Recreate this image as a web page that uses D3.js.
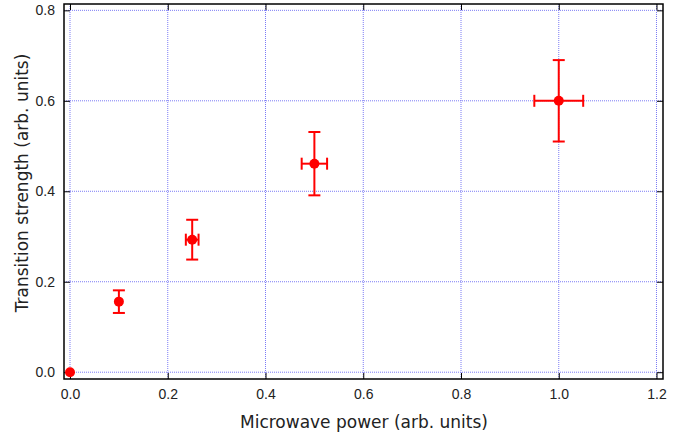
<!DOCTYPE html>
<html>
<head>
<meta charset="utf-8">
<script src="https://cdn.jsdelivr.net/npm/d3@7"></script>
<style>
  body { margin: 0; background: #fff; }
  svg text { font-family: "DejaVu Sans", Verdana, sans-serif; fill: #222; }
  svg .tick text { font-family: "Liberation Sans", Arial, sans-serif; }
</style>
</head>
<body>
<div class="canvas"></div>
<script>
const power = [0, 0.1, 0.25, 0.5, 1.0];
const powerErr = [0, 0, 0.013, 0.026, 0.05];
const strength = [0, 0.156, 0.293, 0.461, 0.6];
const strengthErr = [0, 0.025, 0.044, 0.07, 0.09];
const xTicks = [0, 0.2, 0.4, 0.6, 0.8, 1.0, 1.2];
const yTicks = [0, 0.2, 0.4, 0.6, 0.8];

const W = 685, H = 435;
const margin = { top: 4, right: 22, bottom: 56, left: 64 };
const width = W - margin.left - margin.right;
const height = H - margin.top - margin.bottom;

const x = d3.scaleLinear().domain([-0.0123, 1.2133]).range([0, width]);
const y = d3.scaleLinear().domain([-0.015, 0.814]).range([height, 0]);

const svg = d3.select(".canvas").append("svg").attr("width", W).attr("height", H);
const chart = svg.append("g").attr("transform", `translate(${margin.left}, ${margin.top})`);

// grid
chart.append("g").selectAll("line").data(xTicks).enter().append("line")
  .attr("x1", (d) => x(d)).attr("x2", (d) => x(d))
  .attr("y1", 0).attr("y2", height)
  .attr("stroke", "#7b7bf5").attr("stroke-width", 1).attr("stroke-dasharray", "1,1");
chart.append("g").selectAll("line").data(yTicks).enter().append("line")
  .attr("y1", (d) => y(d)).attr("y2", (d) => y(d))
  .attr("x1", 0).attr("x2", width)
  .attr("stroke", "#7b7bf5").attr("stroke-width", 1).attr("stroke-dasharray", "1,1");

// axes with inward ticks
const fmt = d3.format(".1f");
const xAxis = chart.append("g").attr("transform", `translate(0, ${height})`)
  .call(d3.axisBottom(x).tickValues(xTicks).tickFormat(fmt).tickSizeInner(-6).tickSizeOuter(0).tickPadding(10));
const yAxis = chart.append("g")
  .call(d3.axisLeft(y).tickValues(yTicks).tickFormat(fmt).tickSizeInner(-6).tickSizeOuter(0).tickPadding(9));
const xTop = chart.append("g")
  .call(d3.axisTop(x).tickValues(xTicks).tickFormat("").tickSizeInner(-6).tickSizeOuter(0));
const yRight = chart.append("g").attr("transform", `translate(${width}, 0)`)
  .call(d3.axisRight(y).tickValues(yTicks).tickFormat("").tickSizeInner(-6).tickSizeOuter(0));
[xAxis, yAxis, xTop, yRight].forEach((a) => {
  a.select(".domain").remove();
  a.selectAll("line").attr("stroke", "#000");
  a.selectAll("text").style("font-size", "14px").attr("fill", "#222");
});

chart.append("rect").attr("width", width).attr("height", height)
  .attr("fill", "none").attr("stroke", "#000").attr("stroke-width", 1.5);

// error bars
const pts = power.map((p, i) => ({ x: p, xe: powerErr[i], y: strength[i], ye: strengthErr[i] }));
const eb = chart.append("g").attr("stroke", "#ff0000").attr("stroke-width", 2);
pts.filter((d) => d.ye > 0).forEach((d) => {
  eb.append("line").attr("x1", x(d.x)).attr("x2", x(d.x)).attr("y1", y(d.y - d.ye)).attr("y2", y(d.y + d.ye));
  [d.y - d.ye, d.y + d.ye].forEach((v) => {
    eb.append("line").attr("x1", x(d.x) - 6).attr("x2", x(d.x) + 6).attr("y1", y(v)).attr("y2", y(v));
  });
});
pts.filter((d) => d.xe > 0).forEach((d) => {
  eb.append("line").attr("x1", x(d.x - d.xe)).attr("x2", x(d.x + d.xe)).attr("y1", y(d.y)).attr("y2", y(d.y));
  [d.x - d.xe, d.x + d.xe].forEach((v) => {
    eb.append("line").attr("x1", x(v)).attr("x2", x(v)).attr("y1", y(d.y) - 6).attr("y2", y(d.y) + 6);
  });
});

chart.selectAll("circle").data(pts).enter().append("circle")
  .attr("cx", (d) => x(d.x)).attr("cy", (d) => y(d.y)).attr("r", 5)
  .attr("fill", "#ff0000");

// titles
svg.append("text").attr("x", 364).attr("y", 428)
  .attr("text-anchor", "middle").style("font-size", "17px").text("Microwave power (arb. units)");
svg.append("text").attr("transform", `translate(28, 183) rotate(-90)`)
  .attr("text-anchor", "middle").style("font-size", "17px").text("Transition strength (arb. units)");
</script>
</body>
</html>
